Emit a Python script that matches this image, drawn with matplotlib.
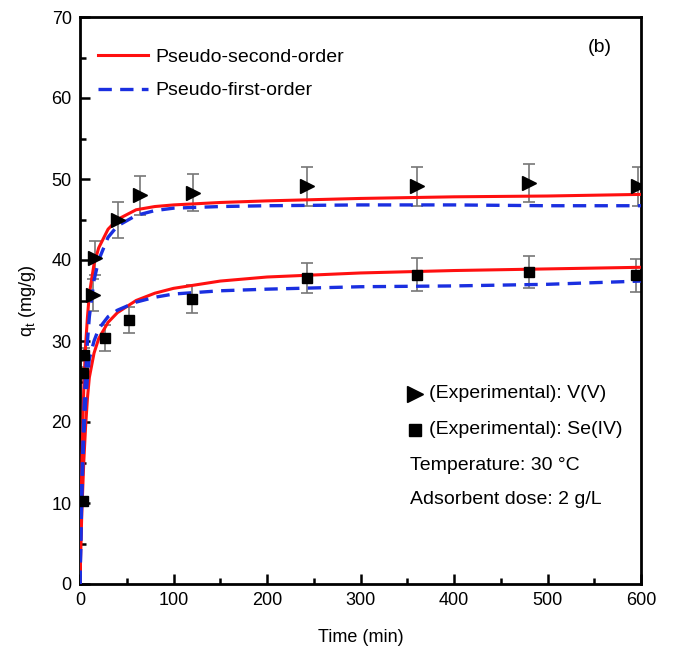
import numpy as np
import matplotlib.pyplot as plt
from matplotlib.ticker import MultipleLocator

plt.rcParams['font.family'] = ['Liberation Sans', 'DejaVu Sans']

# experimental points
t_v = [14, 16, 41, 64, 121, 243, 360, 480, 597]
q_v = [35.7, 40.2, 44.9, 48.0, 48.3, 49.1, 49.1, 49.5, 49.1]
e_v = [2.0, 2.1, 2.2, 2.4, 2.3, 2.4, 2.4, 2.4, 2.4]

t_se = [3, 3, 4, 27, 52, 120, 243, 360, 480, 595]
q_se = [10.2, 26.0, 28.3, 30.4, 32.6, 35.2, 37.8, 38.2, 38.5, 38.1]
e_se = [0.5, 0.8, 0.8, 1.6, 1.6, 1.7, 1.85, 2.0, 2.0, 2.0]

# fitted model lines
t_fit = [0, 1, 2, 4, 6, 8, 10, 15, 20, 30, 40, 60, 80, 100, 150, 200, 300, 400, 500, 600]
v_pso = [0, 8, 15, 24, 29.5, 33, 35.8, 39.5, 41.5, 43.8, 45.0, 46.2, 46.6, 46.8, 47.1, 47.3, 47.6, 47.8, 47.9, 48.1]
v_pfo = [0, 7, 13, 21, 26, 30, 33, 37.5, 40, 42.8, 44.2, 45.5, 46.1, 46.4, 46.6, 46.7, 46.8, 46.8, 46.7, 46.7]
se_pso = [0, 5, 9, 15, 19.5, 23, 25.5, 28.5, 30.3, 32.3, 33.5, 35.0, 35.9, 36.5, 37.4, 37.9, 38.4, 38.7, 38.9, 39.1]
se_pfo = [0, 6, 11, 18, 22.5, 25.5, 27.8, 30.0, 31.5, 33.0, 33.8, 34.8, 35.4, 35.8, 36.2, 36.4, 36.7, 36.8, 37.0, 37.4]

fig = plt.figure(figsize=(6.81, 6.52), dpi=100)
ax = fig.add_axes([80/681, 1 - 584/652, 561/681, 567/652])

# error bars + points
ax.errorbar(t_v, q_v, yerr=e_v, fmt='none', ecolor='#777777', elinewidth=1.2,
            capsize=4, capthick=1.2, zorder=2)
ax.errorbar(t_se, q_se, yerr=e_se, fmt='none', ecolor='#777777', elinewidth=1.2,
            capsize=4, capthick=1.2, zorder=2)
ax.plot(t_v, q_v, '>', color='black', ms=10, ls='none', zorder=4)
ax.plot(t_se, q_se, 's', color='black', ms=7.5, ls='none', zorder=4)

l1, = ax.plot(t_fit, v_pso, color='#ff1010', lw=2.2, zorder=3)
ax.plot(t_fit, se_pso, color='#ff1010', lw=2.2, zorder=3)
l2, = ax.plot(t_fit, v_pfo, color='#1a2fe0', lw=2.4, ls=(0, (4, 2.5)), zorder=3)
ax.plot(t_fit, se_pfo, color='#1a2fe0', lw=2.4, ls=(0, (4, 2.5)), zorder=3)

ax.set_xlim(0, 600)
ax.set_ylim(0, 70)
ax.xaxis.set_major_locator(MultipleLocator(100))
ax.xaxis.set_minor_locator(MultipleLocator(50))
ax.yaxis.set_major_locator(MultipleLocator(10))
ax.yaxis.set_minor_locator(MultipleLocator(5))
ax.tick_params(which='both', direction='in', top=False, right=False, width=1.8,
               labelsize=13, pad=6)
ax.tick_params(which='major', length=7)
ax.tick_params(which='minor', length=4)
for s in ax.spines.values():
    s.set_linewidth(2)

ax.set_xlabel('Time (min)', fontsize=13, labelpad=14)
ax.set_ylabel('q$_\\mathregular{t}$ (mg/g)', fontsize=13, labelpad=10)

leg = ax.legend([l1, l2], ['Pseudo-second-order', 'Pseudo-first-order'],
                loc='upper left', bbox_to_anchor=(0.0, 0.975), frameon=False,
                fontsize=14, handlelength=2.6, handletextpad=0.4, labelspacing=0.8)

ax.text(0.927, 0.947, '(b)', transform=ax.transAxes, fontsize=14,
        ha='center', va='center')

# lower-right annotation block
ax.plot([0.597], [(584 - 394) / 567], '>', color='black', ms=12,
        transform=ax.transAxes, clip_on=False)
ax.plot([0.597], [(584 - 430) / 567], 's', color='black', ms=9,
        transform=ax.transAxes, clip_on=False)
ax.text(0.622, (584 - 394) / 567, '(Experimental): V(V)', transform=ax.transAxes,
        fontsize=14, va='center')
ax.text(0.622, (584 - 430) / 567, '(Experimental): Se(IV)', transform=ax.transAxes,
        fontsize=14, va='center')
ax.text(0.588, (584 - 466) / 567, 'Temperature: 30 \u00b0C', transform=ax.transAxes,
        fontsize=14, va='center')
ax.text(0.588, (584 - 499) / 567, 'Adsorbent dose: 2 g/L', transform=ax.transAxes,
        fontsize=14, va='center')

fig.savefig('out.png', dpi=100)
